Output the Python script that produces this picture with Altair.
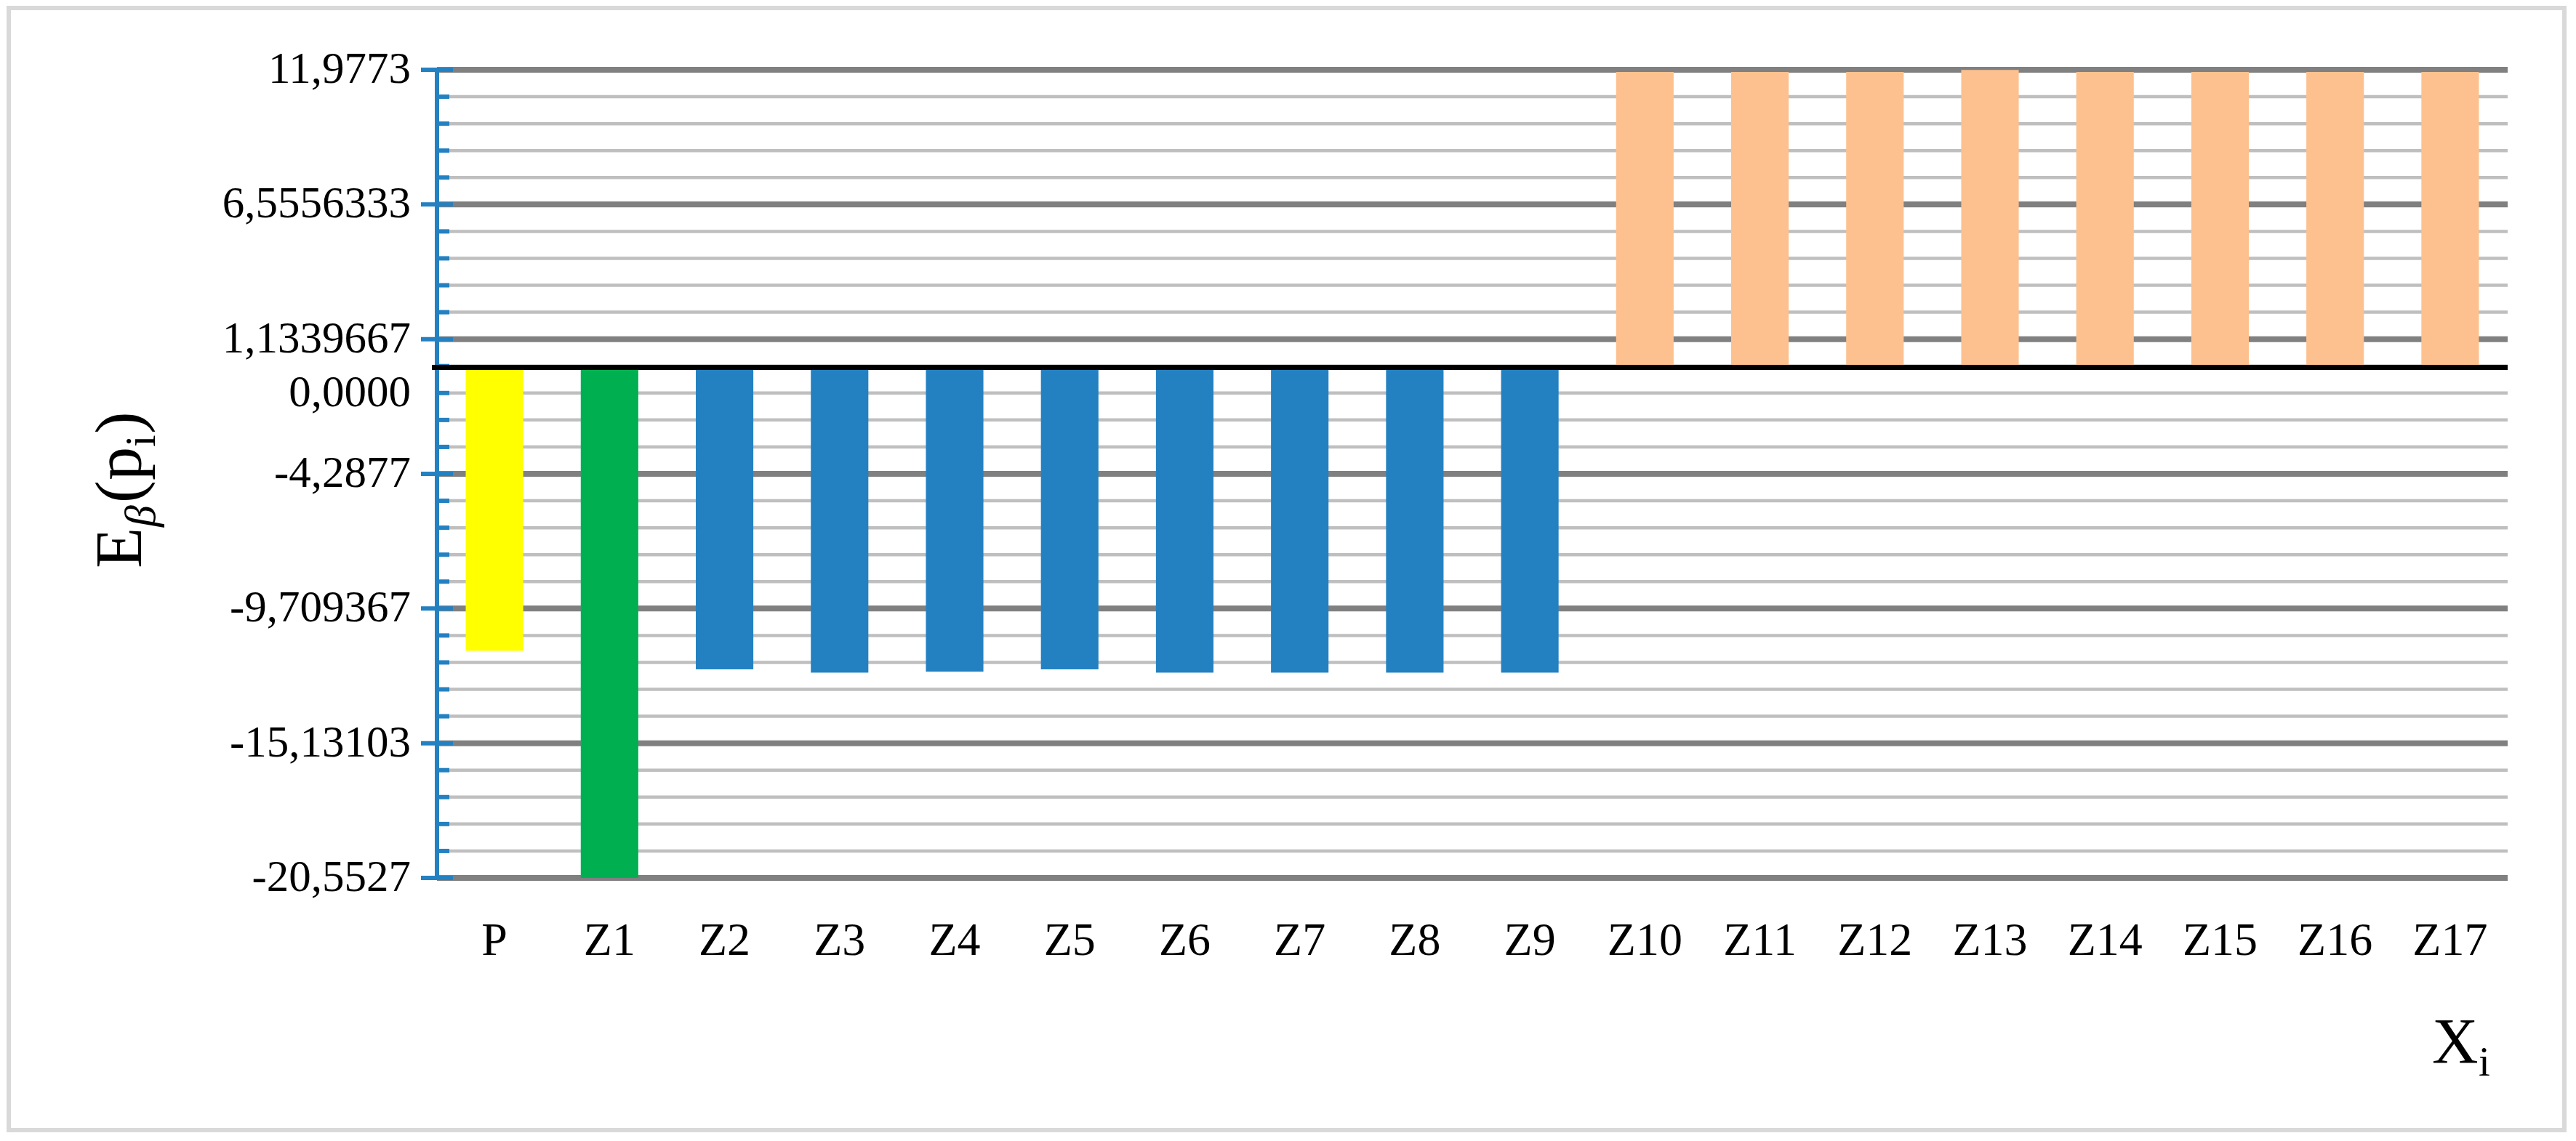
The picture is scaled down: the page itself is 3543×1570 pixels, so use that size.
import altair as alt
import pandas as pd

# ---------------- data ----------------
categories = ["P", "Z1", "Z2", "Z3", "Z4", "Z5", "Z6", "Z7", "Z8", "Z9",
              "Z10", "Z11", "Z12", "Z13", "Z14", "Z15", "Z16", "Z17"]
values = [-11.41, -20.5527, -12.16, -12.29, -12.25, -12.16, -12.29, -12.29, -12.29, -12.29,
          11.89, 11.89, 11.89, 11.97, 11.89, 11.89, 11.89, 11.89]
bar_colors = ["#FFFF00", "#00B050"] + ["#2481C1"] * 8 + ["#FDC18F"] * 8

major_ticks = [11.9773, 6.5556333, 1.1339667, -4.2877, -9.709367, -15.13103, -20.5527]
tick_label_values = [11.9773, 6.5556333, 1.1339667, -1.0347, -4.2877, -9.709367, -15.13103, -20.5527]
tick_label_texts = ["11,9773", "6,5556333", "1,1339667", "0,0000", "-4,2877",
                    "-9,709367", "-15,13103", "-20,5527"]
zero_value = [0.0]

# minor ticks: 4 between each pair of major ticks
minor_ticks = []
for a, b in zip(major_ticks[:-1], major_ticks[1:]):
    for j in range(1, 5):
        minor_ticks.append(a + (b - a) * j / 5)

W, H = 2848, 1112
FONT = "Liberation Serif"
BLUE = "#2481C1"

bars_df = pd.DataFrame({"cat": categories, "value": values})
major_df = pd.DataFrame({"v": major_ticks})
minor_df = pd.DataFrame({"v": minor_ticks})
labels_df = pd.DataFrame({"v": tick_label_values, "t": tick_label_texts})
zero_df = pd.DataFrame({"v": zero_value})
one_df = pd.DataFrame({"k": [1]})

yscale = alt.Scale(domain=[major_ticks[-1], major_ticks[0]], nice=False, zero=False)

minor_grid = alt.Chart(minor_df).mark_rule(color="#BFBFBF", strokeWidth=4.5).encode(
    y=alt.Y("v:Q", scale=yscale, axis=None), x=alt.value(0), x2=alt.value(W))
major_grid = alt.Chart(major_df).mark_rule(color="#808080", strokeWidth=8).encode(
    y=alt.Y("v:Q", scale=yscale, axis=None), x=alt.value(0), x2=alt.value(W))

bars = alt.Chart(bars_df).mark_bar().encode(
    x=alt.X("cat:N", sort=categories,
            scale=alt.Scale(paddingInner=0.5, paddingOuter=0.25),
            axis=alt.Axis(title=None, domain=False, ticks=False, tickSize=0, grid=False,
                          labelAngle=0, labelFont=FONT, labelFontSize=64,
                          labelColor="black", labelPadding=54)),
    y=alt.Y("value:Q", scale=yscale, axis=None),
    color=alt.Color("cat:N", scale=alt.Scale(domain=categories, range=bar_colors), legend=None),
)

minor_tk = alt.Chart(minor_df).mark_rule(color=BLUE, strokeWidth=6).encode(
    y=alt.Y("v:Q", scale=yscale, axis=None), x=alt.value(0), x2=alt.value(17))
major_tk = alt.Chart(major_df).mark_rule(color=BLUE, strokeWidth=6).encode(
    y=alt.Y("v:Q", scale=yscale, axis=None), x=alt.value(-22), x2=alt.value(22))
axis_line = alt.Chart(one_df).mark_rule(color=BLUE, strokeWidth=6).encode(
    x=alt.value(0), y=alt.value(0), y2=alt.value(H))

zero_line = alt.Chart(zero_df).mark_rule(color="black", strokeWidth=7).encode(
    y=alt.Y("v:Q", scale=yscale, axis=None), x=alt.value(-7), x2=alt.value(W))

ylabels = alt.Chart(labels_df).mark_text(align="right", baseline="middle", font=FONT,
                                         fontSize=61, color="black").encode(
    y=alt.Y("v:Q", scale=yscale, axis=None), x=alt.value(-36), text="t:N")

# y title  E_beta(p_i), rotated
TX, TY = -407, 686
def piece(txt, dx, dy, size, italic=False):
    return alt.Chart(one_df).mark_text(
        text=txt, angle=270, align="left", baseline="alphabetic", font=FONT,
        fontSize=size, fontStyle="italic" if italic else "normal", color="black",
        dx=dx, dy=dy).encode(x=alt.value(TX), y=alt.value(TY))

ytitle = [piece("E", 0, 0, 92), piece("β", 57, 19, 60, True), piece("(", 90, 0, 92),
          piece("p", 121, 0, 92), piece("i", 167, 19, 60), piece(")", 185, 0, 92)]

xtitle_X = alt.Chart(one_df).mark_text(text="X", align="left", baseline="alphabetic",
                                       font=FONT, fontSize=88, color="black").encode(
    x=alt.value(2744), y=alt.value(1366))
xtitle_i = alt.Chart(one_df).mark_text(text="i", align="left", baseline="alphabetic",
                                       font=FONT, fontSize=57, color="black").encode(
    x=alt.value(2808), y=alt.value(1384))

frame = alt.Chart(one_df).mark_rect(fillOpacity=0, stroke="#D9D9D9", strokeWidth=6).encode(
    x=alt.value(-589), x2=alt.value(2926), y=alt.value(-85), y2=alt.value(1459))

chart = alt.layer(
    frame, minor_grid, major_grid, bars, minor_tk, major_tk, axis_line, zero_line,
    ylabels, *ytitle, xtitle_X, xtitle_i
).properties(
    width=W, height=H,
    autosize=alt.AutoSizeParams(type="none"),
    padding={"left": 593, "top": 88, "right": 86, "bottom": 352},
    background="white",
).configure_view(strokeWidth=0)

chart.save("out.html", embed_options={"renderer": "svg", "actions": False})
